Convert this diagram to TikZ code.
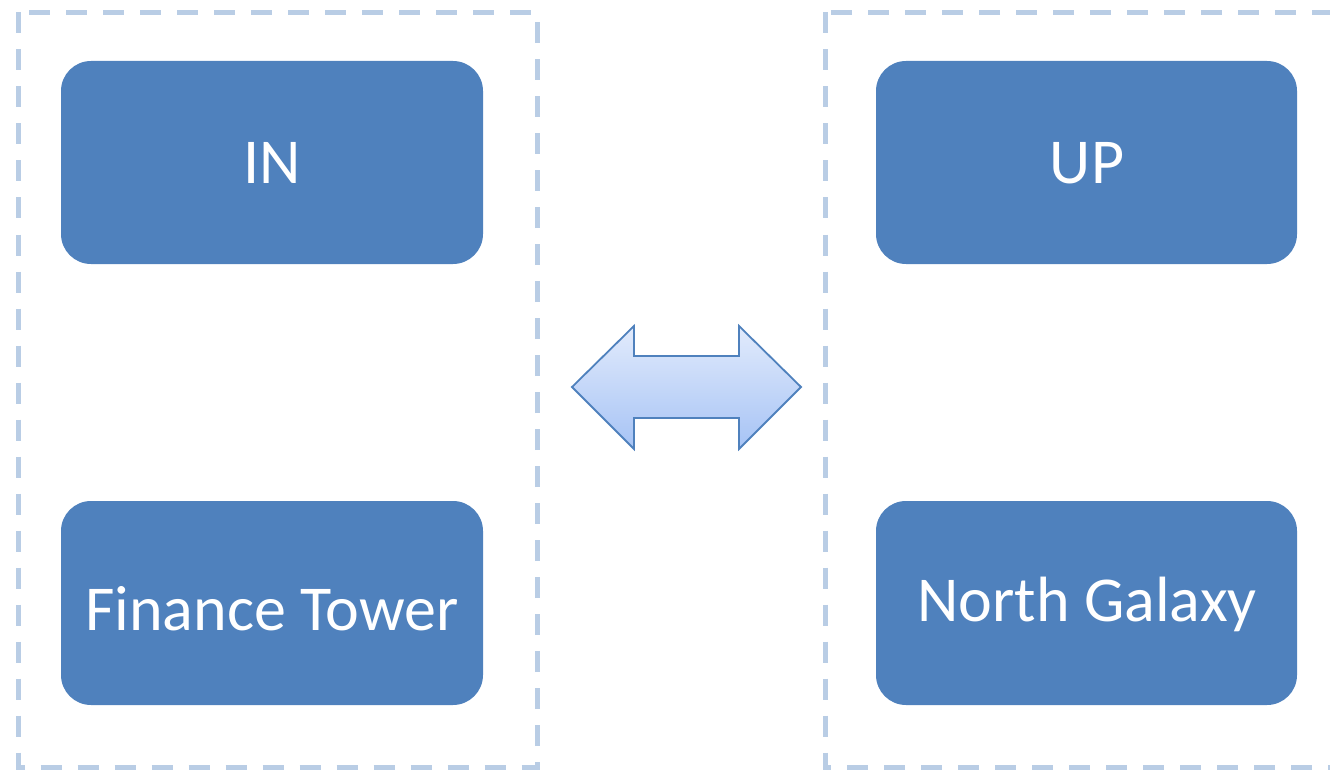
\documentclass[tikz,border=0pt]{standalone}
\usepackage{fontspec}
\setmainfont{Carlito}
\definecolor{boxblue}{HTML}{4F81BD}
\definecolor{dashblue}{HTML}{B9CDE5}
\definecolor{arrtop}{HTML}{E2EBFC}
\definecolor{arrbot}{HTML}{A6C3F5}
\begin{document}
\begin{tikzpicture}[x=1pt,y=-1pt,
  group/.style={draw=dashblue,line width=5pt,dash pattern=on 21pt off 16pt},
  blk/.style={fill=boxblue,rounded corners=30pt},
  lbl/.style={text=white,font=\fontsize{64}{68}\selectfont,inner sep=0pt}]
\useasboundingbox (0,0) rectangle (1330,770);
\clip (0,0) rectangle (1330,770);
\draw[group] (18.5,12.5) rectangle (537,767.5);
\draw[group] (825,12.5) rectangle (1360,767.5);
\fill[blk] (61,61) rectangle (483,264);
\fill[blk] (61,501) rectangle (483,705);
\fill[blk] (876,61) rectangle (1297,264);
\fill[blk] (876,501) rectangle (1297,705);
\node[lbl] (in) at (272,163) {IN};
\node[lbl] (up) at (1087,163) {UP};
\node[lbl] (ft) at (272,609) {Finance Tower};
\node[lbl] (ng) at (1087,604) {North Galaxy};
\path[shade,top color=arrtop,bottom color=arrbot,draw=boxblue,line width=1.8pt,line join=miter]
  (572,387) -- (634,326) -- (634,356) -- (739,356) -- (739,326) -- (801,387)
  -- (739,449) -- (739,418) -- (634,418) -- (634,449) -- cycle;
\end{tikzpicture}
\end{document}
